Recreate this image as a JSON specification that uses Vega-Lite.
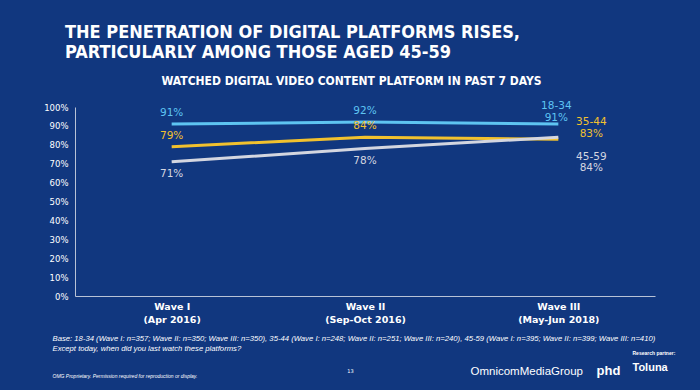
{
  "$schema": "https://vega.github.io/schema/vega-lite/v6.json",
  "autosize": {"type": "none"},
  "width": 580,
  "height": 189,
  "padding": {"left": 75, "top": 107, "right": 45, "bottom": 94},
  "background": "#11377f",
  "config": {
    "view": {"stroke": null},
    "font": "DejaVu Sans",
    "axis": {"grid": false, "ticks": false, "domainColor": "#b8c2d6", "labelColor": "#ffffff", "titleColor": "#ffffff"}
  },
  "title": {
    "text": ["THE PENETRATION OF DIGITAL PLATFORMS RISES,", "PARTICULARLY AMONG THOSE AGED 45-59"],
    "anchor": "start",
    "frame": "group",
    "dx": -10,
    "offset": 12,
    "font": "'DejaVu Sans Condensed', 'Liberation Sans Narrow', 'Liberation Sans', sans-serif",
    "fontSize": 18,
    "fontWeight": "bold",
    "lineHeight": 20,
    "color": "#ffffff"
  },
  "data": {
    "values": [
      {"wave": "Wave I", "group": "18-34", "pct": 0.91},
      {"wave": "Wave I", "group": "35-44", "pct": 0.79},
      {"wave": "Wave I", "group": "45-59", "pct": 0.71},
      {"wave": "Wave II", "group": "18-34", "pct": 0.92},
      {"wave": "Wave II", "group": "35-44", "pct": 0.84},
      {"wave": "Wave II", "group": "45-59", "pct": 0.78},
      {"wave": "Wave III", "group": "18-34", "pct": 0.91},
      {"wave": "Wave III", "group": "35-44", "pct": 0.83},
      {"wave": "Wave III", "group": "45-59", "pct": 0.84}
    ]
  },
  "encoding": {
    "x": {"field": "wave", "type": "nominal", "sort": ["Wave I", "Wave II", "Wave III"], "scale": {"type": "point", "padding": 0.5}},
    "y": {"field": "pct", "type": "quantitative", "scale": {"domain": [0, 1], "nice": false}},
    "color": {"field": "group", "type": "nominal", "scale": {"domain": ["18-34", "35-44", "45-59"], "range": ["#5ec4f2", "#f2c12e", "#d4d6e0"]}, "legend": null}
  },
  "resolve": {"axis": {"x": "independent", "y": "independent"}},
  "layer": [
    {
      "mark": {"type": "line", "strokeWidth": 3},
      "encoding": {
        "x": {"field": "wave", "type": "nominal", "sort": ["Wave I", "Wave II", "Wave III"], "axis": {
          "orient": "bottom", "domain": true, "labels": true, "labelAngle": 0,
          "labelExpr": "datum.value == 'Wave I' ? ['Wave I', '(Apr 2016)'] : datum.value == 'Wave II' ? ['Wave II', '(Sep-Oct 2016)'] : ['Wave III', '(May-Jun 2018)']",
          "labelFontSize": 9.5, "labelFontWeight": "bold", "labelLineHeight": 13, "labelPadding": 5, "labelBaseline": "top",
          "title": ["Base: 18-34 (Wave I: n=357; Wave II: n=350; Wave III: n=350), 35-44 (Wave I: n=248; Wave II: n=251; Wave III: n=240), 45-59 (Wave I: n=395; Wave II: n=399; Wave III: n=410)", "Except today, when did you last watch these platforms?"],
          "titleX": -23, "titleY": 44, "titleAlign": "left", "titleBaseline": "alphabetic", "titleAngle": 0,
          "titleFont": "Liberation Sans", "titleFontSize": 7.7, "titleFontStyle": "italic", "titleFontWeight": "normal", "titleLineHeight": 10
        }},
        "y": {"field": "pct", "type": "quantitative", "axis": {
          "orient": "left", "values": [0, 0.1, 0.2, 0.3, 0.4, 0.5, 0.6, 0.7, 0.8, 0.9, 1], "format": ".0%",
          "labelFontSize": 8.5, "labelPadding": 7, "title": null
        }}
      }
    },
    {
      "transform": [{"filter": "datum.wave != 'Wave III' && datum.group != '45-59'"}],
      "mark": {"type": "text", "dy": -11, "fontSize": 10.5},
      "encoding": {
        "text": {"field": "pct", "type": "quantitative", "format": ".0%"},
        "x": {"field": "wave", "type": "nominal", "sort": ["Wave I", "Wave II", "Wave III"], "axis": {
          "orient": "top", "domain": false, "labels": false,
          "title": "WATCHED DIGITAL VIDEO CONTENT PLATFORM IN PAST 7 DAYS",
          "titleX": 276, "titleY": -23, "titleAlign": "center", "titleBaseline": "alphabetic",
          "titleFontSize": 12, "titleFontWeight": "bold",
          "titleFont": "'DejaVu Sans Condensed', 'Liberation Sans Narrow', 'Liberation Sans', sans-serif"
        }},
        "y": {"field": "pct", "type": "quantitative", "axis": null}
      }
    },
    {
      "transform": [{"filter": "datum.wave != 'Wave III' && datum.group == '45-59'"}],
      "mark": {"type": "text", "dy": 12, "fontSize": 10.5},
      "encoding": {
        "text": {"field": "pct", "type": "quantitative", "format": ".0%"},
        "x": {"field": "wave", "type": "nominal", "sort": ["Wave I", "Wave II", "Wave III"], "axis": {
          "orient": "bottom", "domain": false, "labels": false,
          "title": "OMG Proprietary. Permission required for reproduction or display.",
          "titleX": -23, "titleY": 81, "titleAlign": "left", "titleBaseline": "alphabetic",
          "titleFont": "Liberation Sans", "titleFontSize": 5, "titleFontStyle": "italic", "titleFontWeight": "normal"
        }},
        "y": {"field": "pct", "type": "quantitative", "axis": null}
      }
    },
    {
      "transform": [{"filter": "datum.wave == 'Wave III' && datum.group == '18-34'"}],
      "mark": {"type": "text", "dy": -6, "dx": -2, "fontSize": 10.5},
      "encoding": {
        "text": {"field": "pct", "type": "quantitative", "format": ".0%"},
        "x": {"field": "wave", "type": "nominal", "sort": ["Wave I", "Wave II", "Wave III"], "axis": {
          "orient": "bottom", "domain": false, "labels": false,
          "title": "13",
          "titleX": 275, "titleY": 76, "titleAlign": "center", "titleBaseline": "alphabetic",
          "titleFontSize": 5, "titleFontWeight": "normal"
        }},
        "y": {"field": "pct", "type": "quantitative", "axis": null}
      }
    },
    {
      "transform": [{"filter": "datum.wave == 'Wave III' && datum.group == '18-34'"}],
      "mark": {"type": "text", "dy": -18, "dx": -2, "fontSize": 10.5},
      "encoding": {
        "text": {"field": "group", "type": "nominal"},
        "x": {"field": "wave", "type": "nominal", "sort": ["Wave I", "Wave II", "Wave III"], "axis": {
          "orient": "bottom", "domain": false, "labels": false,
          "title": "OmnicomMediaGroup",
          "titleX": 395, "titleY": 78, "titleAlign": "left", "titleBaseline": "alphabetic",
          "titleFont": "Liberation Sans", "titleFontSize": 11.5, "titleFontWeight": "normal"
        }},
        "y": {"field": "pct", "type": "quantitative", "axis": null}
      }
    },
    {
      "transform": [{"filter": "datum.wave == 'Wave III' && datum.group == '35-44'"}],
      "mark": {"type": "text", "dy": -5, "dx": 33, "fontSize": 10.5},
      "encoding": {
        "text": {"field": "pct", "type": "quantitative", "format": ".0%"},
        "x": {"field": "wave", "type": "nominal", "sort": ["Wave I", "Wave II", "Wave III"], "axis": {
          "orient": "bottom", "domain": false, "labels": false,
          "title": "phd",
          "titleX": 521, "titleY": 78, "titleAlign": "left", "titleBaseline": "alphabetic",
          "titleFont": "Liberation Sans", "titleFontSize": 13, "titleFontWeight": "bold"
        }},
        "y": {"field": "pct", "type": "quantitative", "axis": null}
      }
    },
    {
      "transform": [{"filter": "datum.wave == 'Wave III' && datum.group == '35-44'"}],
      "mark": {"type": "text", "dy": -17, "dx": 33, "fontSize": 10.5},
      "encoding": {
        "text": {"field": "group", "type": "nominal"},
        "x": {"field": "wave", "type": "nominal", "sort": ["Wave I", "Wave II", "Wave III"], "axis": {
          "orient": "bottom", "domain": false, "labels": false,
          "title": "Research partner:",
          "titleX": 557, "titleY": 58, "titleAlign": "left", "titleBaseline": "alphabetic",
          "titleFont": "Liberation Sans", "titleFontSize": 5, "titleFontWeight": "bold"
        }},
        "y": {"field": "pct", "type": "quantitative", "axis": null}
      }
    },
    {
      "transform": [{"filter": "datum.wave == 'Wave III' && datum.group == '45-59'"}],
      "mark": {"type": "text", "dy": 31, "dx": 33, "fontSize": 10.5},
      "encoding": {
        "text": {"field": "pct", "type": "quantitative", "format": ".0%"},
        "x": {"field": "wave", "type": "nominal", "sort": ["Wave I", "Wave II", "Wave III"], "axis": {
          "orient": "bottom", "domain": false, "labels": false,
          "title": "Toluna",
          "titleX": 557, "titleY": 74, "titleAlign": "left", "titleBaseline": "alphabetic",
          "titleFont": "Liberation Sans", "titleFontSize": 11, "titleFontWeight": "bold"
        }},
        "y": {"field": "pct", "type": "quantitative", "axis": null}
      }
    },
    {
      "transform": [{"filter": "datum.wave == 'Wave III' && datum.group == '45-59'"}],
      "mark": {"type": "text", "dy": 20, "dx": 33, "fontSize": 10.5},
      "encoding": {
        "text": {"field": "group", "type": "nominal"},
        "x": {"field": "wave", "type": "nominal", "sort": ["Wave I", "Wave II", "Wave III"], "axis": null},
        "y": {"field": "pct", "type": "quantitative", "axis": null}
      }
    }
  ]
}
